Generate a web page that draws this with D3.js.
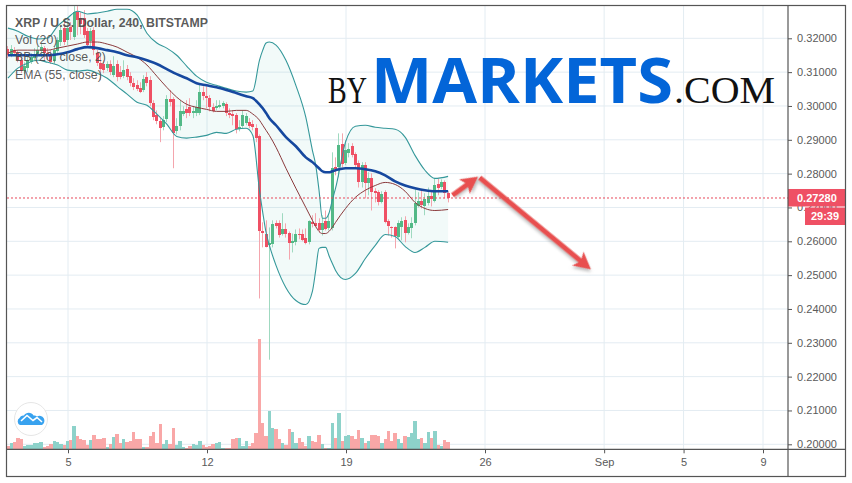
<!DOCTYPE html>
<html><head><meta charset="utf-8">
<script src="https://cdnjs.cloudflare.com/ajax/libs/d3/7.8.5/d3.min.js"></script>
<style>html,body{margin:0;padding:0;background:#fff}svg{display:block}text{font-family:"Liberation Sans",Arial,sans-serif}</style>
</head><body><svg id="c" width="852" height="483"></svg>
<script>
// One entry per 4-hour candle, first candle 2 Aug 2019 00:00 UTC
const opens=[.3168,.3153,.3165,.3156,.3135,.3103,.3112,.3129,.3141,.3150,
.3162,.3171,.3156,.3147,.3132,.3162,.3189,.3230,.3195,.3233,
.3203,.3277,.3260,.3260,.3221,.3192,.3224,.3156,.3127,.3124,
.3112,.3124,.3091,.3124,.3100,.3088,.3109,.3088,.3067,.3061,
.3052,.3047,.3085,.3076,.3008,.2973,.2955,.2937,.2961,.3020,
.3020,.2925,.2940,.2976,.2990,.2996,.2979,.2979,.2979,.3041,
.3029,.3023,.2996,.2993,.2996,.2999,.3005,.2979,.2976,.2973,
.2931,.2940,.2949,.2952,.2946,.2934,.2910,.2629,.2623,.2588,
.2591,.2653,.2653,.2620,.2635,.2626,.2594,.2600,.2623,.2623,
.2611,.2597,.2656,.2653,.2653,.2632,.2659,.2638,.2638,.2819,
.2819,.2887,.2831,.2860,.2881,.2857,.2831,.2774,.2825,.2771,
.2786,.2748,.2745,.2715,.2745,.2659,.2641,.2641,.2611,.2641,
.2662,.2623,.2638,.2653,.2703,.2718,.2703,.2712,.2733,.2718,
.2768,.2759,.2774,.2742];
const highs=[.3177,.3180,.3174,.3165,.3147,.3129,.3147,.3156,.3171,.3177,
.3183,.3177,.3171,.3165,.3177,.3203,.3236,.3248,.3254,.3248,
.3295,.3295,.3277,.3283,.3230,.3230,.3233,.3165,.3147,.3135,
.3132,.3135,.3147,.3135,.3118,.3135,.3121,.3100,.3082,.3076,
.3070,.3091,.3100,.3088,.3017,.2987,.2964,.2970,.3032,.3047,
.3026,.2964,.3017,.2999,.3017,.3023,.2999,.3017,.3067,.3058,
.3058,.3032,.3008,.3017,.3017,.3014,.3011,.2993,.2987,.2979,
.2958,.2987,.2979,.2964,.2958,.2946,.2916,.2656,.2662,.2641,
.2662,.2662,.2662,.2683,.2653,.2629,.2623,.2635,.2638,.2635,
.2638,.2662,.2677,.2683,.2668,.2677,.2691,.2677,.2863,.2848,
.2919,.2919,.2899,.2890,.2890,.2863,.2839,.2834,.2834,.2804,
.2801,.2757,.2751,.2748,.2751,.2665,.2644,.2644,.2662,.2671,
.2674,.2653,.2671,.2754,.2745,.2751,.2742,.2759,.2751,.2786,
.2786,.2783,.2780,.2748];
const lows=[.3141,.3144,.3150,.3129,.3097,.3094,.3100,.3124,.3135,.3141,
.3144,.3135,.3135,.3124,.3124,.3153,.3177,.3180,.3180,.3195,
.3195,.3209,.3212,.3201,.3171,.3177,.3150,.3118,.3076,.3097,
.3103,.3091,.3085,.3073,.3079,.3082,.3076,.3058,.3047,.3044,
.3038,.3041,.3058,.2999,.2958,.2946,.2893,.2928,.2952,.2999,
.2816,.2916,.2928,.2970,.2964,.2970,.2964,.2970,.2973,.3017,
.2993,.2984,.2981,.2987,.2993,.2993,.2970,.2964,.2943,.2919,
.2925,.2934,.2943,.2934,.2928,.2893,.2431,.2582,.2582,.2250,
.2582,.2638,.2611,.2617,.2611,.2546,.2567,.2588,.2606,.2600,
.2591,.2591,.2641,.2641,.2626,.2617,.2632,.2632,.2632,.2795,
.2789,.2819,.2825,.2848,.2848,.2819,.2759,.2759,.2727,.2736,
.2691,.2715,.2706,.2712,.2653,.2617,.2611,.2579,.2609,.2603,
.2597,.2620,.2609,.2647,.2700,.2697,.2677,.2706,.2703,.2715,
.2736,.2754,.2727,.2715];
const closes=[.3150,.3168,.3156,.3135,.3103,.3118,.3135,.3144,.3153,.3165,
.3174,.3156,.3147,.3129,.3165,.3195,.3224,.3189,.3230,.3218,
.3277,.3254,.3242,.3209,.3180,.3221,.3165,.3127,.3109,.3106,
.3124,.3100,.3118,.3085,.3085,.3106,.3085,.3067,.3055,.3050,
.3041,.3079,.3067,.3008,.2967,.2955,.2934,.2958,.3020,.3011,
.2919,.2940,.2984,.2984,.2979,.2979,.2984,.2996,.3041,.3029,
.3023,.2996,.2984,.2999,.3002,.3008,.2979,.2973,.2970,.2931,
.2937,.2973,.2970,.2940,.2937,.2905,.2629,.2623,.2585,.2594,
.2650,.2644,.2617,.2635,.2620,.2597,.2600,.2623,.2620,.2606,
.2597,.2659,.2650,.2644,.2632,.2653,.2635,.2659,.2816,.2813,
.2884,.2828,.2869,.2872,.2854,.2825,.2774,.2825,.2771,.2786,
.2745,.2742,.2715,.2739,.2656,.2644,.2638,.2614,.2653,.2659,
.2623,.2641,.2653,.2712,.2718,.2706,.2724,.2733,.2724,.2765,
.2757,.2774,.2742,.2728];
const volumes=[3,6,7,11,10,3,4,4,6,6,7,2.5,3,5,8,7,5,4,8,9,
23,13,10,9,4,9,14,10,10,11,2,5,12,15,6,10,7,8,17,10,
10,2,2,13,17,6,25,5,9,5,21,4,8,2,1,3,5,4,8,4,
2,3,5,6,7,1,1,1,10,11,11,3,8,3,6,16,110,26,13,38,
21,20,10,6,4,20,17,6,11,7,3,13,8,7,14,5,1,1,26,11,
36,8,13,14,13,10,19,11,6,8,14,14,13,6,10,18,8,16,10,6,
13,12,16,28,10,11,6,17,11,18,4,3,9,7];
// Indicator readings, sampled at these candle numbers
const sampleAt=[0,3,6,9,12,15,18,21,24,27,30,33,36,39,42,45,48,51,54,57,60,63,66,69,72,74,76,77,78,79,81,84,87,90,92,93,94,95,96,97,98,99,102,105,108,111,114,117,120,123,126,129,133];
const bbUpper=[.3230,.3221,.3206,.3198,.3201,.3236,.3260,.3280,.3272,.3275,.3280,.3286,.3286,.3269,.3215,.3186,.3171,.3150,.3118,.3088,.3070,.3061,.3052,.3044,.3041,.3044,.3135,.3165,.3186,.3189,.3180,.3135,.3061,.2967,.2869,.2825,.2751,.2668,.2668,.2683,.2721,.2757,.2893,.2940,.2943,.2937,.2934,.2931,.2908,.2854,.2810,.2786,.2792];
const bbLower=[.3082,.3112,.3127,.3135,.3129,.3121,.3106,.3103,.3106,.3097,.3082,.3058,.3035,.3011,.3002,.2976,.2946,.2910,.2905,.2908,.2913,.2922,.2919,.2931,.2934,.2913,.2751,.2685,.2626,.2588,.2529,.2463,.2425,.2413,.2452,.2514,.2579,.2582,.2582,.2558,.2535,.2514,.2487,.2505,.2549,.2588,.2620,.2614,.2585,.2567,.2582,.2600,.2597];
const bbBasis=[.3156,.3165,.3165,.3165,.3165,.3171,.3177,.3183,.3189,.3189,.3183,.3174,.3159,.3144,.3121,.3088,.3055,.3026,.3005,.2996,.2990,.2984,.2984,.2987,.2987,.2976,.2958,.2943,.2928,.2913,.2878,.2816,.2757,.2700,.2662,.2644,.2629,.2623,.2623,.2629,.2641,.2656,.2697,.2730,.2751,.2765,.2774,.2768,.2748,.2715,.2697,.2691,.2694];
const ema=[.3150,.3150,.3150,.3150,.3150,.3153,.3159,.3168,.3174,.3171,.3165,.3159,.3150,.3144,.3135,.3124,.3109,.3094,.3082,.3067,.3061,.3055,.3047,.3038,.3029,.3023,.3005,.2993,.2979,.2964,.2943,.2908,.2881,.2848,.2834,.2825,.2816,.2807,.2804,.2804,.2807,.2810,.2816,.2816,.2813,.2807,.2795,.2777,.2765,.2757,.2751,.2748,.2748];
const priceTicks=[.20,.21,.22,.23,.24,.25,.26,.27,.28,.29,.30,.31,.32];
const dateTicks=["2019-08-05","2019-08-12","2019-08-19","2019-08-26","2019-09-01","2019-09-05","2019-09-09"];
const dateLabels=["5","12","19","26","Sep","5","9"];
const legendLines=["XRP / U.S. Dollar, 240, BITSTAMP","Vol (20)","BB (20, close, 2)","EMA (55, close)"];
const lastPrice=.2728, lastLabel="0.27280", countdown="29:39";
// Forecast arrows: [candle number, price]
const arrowUp=[[134.2,.2736],[141.9,.2791]];
const arrowDown=[[142.4,.2788],[176,.2517]];

const H=4*3600e3, t0=Date.UTC(2019,7,2);
const tOf=i=>new Date(t0+i*H);
const L=7,R=788,T=6,B=449.3,FR=845,FB=476;
const x=d3.scaleUtc().domain([new Date("2019-08-05T00:00Z"),new Date("2019-09-09T00:00Z")]).range([68,763]);
const y=d3.scaleLinear().domain([.20,.32]).range([444.3,38.3]);
const v=d3.scaleLinear().domain([0,110]).range([B,B-110]);
const X=i=>x(tOf(i))-.5, cw=x(tOf(1))-x(tOf(0));
const RED="#ef5064",GRN="#53b987",WR="#f4a5ad",WG="#9fd9c0";
const svg=d3.select("#c");
const defs=svg.append("defs");
defs.append("clipPath").attr("id","pane").append("rect").attr("x",L).attr("y",T).attr("width",R-L).attr("height",B-T);
const f=defs.append("filter").attr("id","sh").attr("x","-20%").attr("y","-20%").attr("width","150%").attr("height","150%");
f.append("feDropShadow").attr("dx",1.5).attr("dy",2).attr("stdDeviation",1.5).attr("flood-color","#888").attr("flood-opacity",.55);

svg.append("rect").attr("width",852).attr("height",483).attr("fill","#fff");
// grid
const grid=svg.append("g").attr("stroke","#e3ecf2").attr("stroke-width",1);
priceTicks.forEach(p=>grid.append("line").attr("x1",L).attr("x2",R).attr("y1",y(p)).attr("y2",y(p)));
dateTicks.forEach(d=>{const px=x(new Date(d+"T00:00Z"));grid.append("line").attr("x1",px).attr("x2",px).attr("y1",T).attr("y2",B)});
// watermark
const wm=svg.append("g");
wm.append("text").text("BY").attr("x",328).attr("y",103).attr("textLength",39).attr("lengthAdjust","spacingAndGlyphs").style("font-family","'Liberation Serif',serif").attr("font-size",38).attr("fill","#111");
wm.append("text").text("MARKETS").attr("x",371).attr("y",103).attr("textLength",302).attr("lengthAdjust","spacingAndGlyphs").style("font-family","'Open Sans',sans-serif").attr("font-weight",700).attr("font-size",62).attr("fill","#0365d8");
wm.append("text").text(".COM").attr("x",674).attr("y",103).attr("textLength",101).attr("lengthAdjust","spacingAndGlyphs").style("font-family","'Liberation Serif',serif").attr("font-size",38).attr("fill","#111");

const pane=svg.append("g").attr("clip-path","url(#pane)");
// band
const area=d3.area().x(d=>X(d.i)).y0(d=>y(d.lo)).y1(d=>y(d.up)).curve(d3.curveMonotoneX);
const band=sampleAt.map((i,n)=>({i,up:bbUpper[n],lo:bbLower[n]}));
pane.append("path").attr("d",area(band)).attr("fill","#26a69a").attr("fill-opacity",.06);
// volume
const rows=opens.map((o,i)=>({i,o,h:highs[i],l:lows[i],c:closes[i],vol:volumes[i]}));
const barL=d=>Math.round(X(d.i)-cw/2), barR=d=>Math.round(X(d.i)+cw/2);
pane.append("g").selectAll("rect").data(rows).join("rect")
 .attr("x",barL).attr("width",d=>barR(d)-barL(d)).attr("y",d=>v(d.vol)).attr("height",d=>B-v(d.vol))
 .attr("fill",d=>d.c>=d.o?"#8dd2ca":"#f9a7a7").attr("shape-rendering","crispEdges");
// wicks
const bodyL=d=>Math.round(X(d.i)-1.5);
pane.append("g").selectAll("line").data(rows).join("line")
 .attr("x1",d=>bodyL(d)+1.5).attr("x2",d=>bodyL(d)+1.5).attr("y1",d=>y(d.h)).attr("y2",d=>y(d.l))
 .attr("stroke",d=>d.c>=d.o?WG:WR).attr("stroke-width",1);
// bodies
pane.append("g").selectAll("rect").data(rows).join("rect")
 .attr("x",bodyL).attr("width",3)
 .attr("y",d=>Math.round(y(Math.max(d.o,d.c)))).attr("height",d=>Math.max(1,Math.round(Math.abs(y(d.o)-y(d.c)))))
 .attr("fill",d=>d.c>=d.o?GRN:RED);
// indicator lines
const lineOf=(arr,col,w)=>pane.append("path").attr("fill","none").attr("stroke",col).attr("stroke-width",w)
 .attr("d",d3.line().x((d,n)=>X(sampleAt[n])).y(d=>y(d)).curve(d3.curveMonotoneX)(arr));
lineOf(bbUpper,"#35989a",1.1);
lineOf(bbLower,"#35989a",1.1);
lineOf(bbBasis,"#8a3a3c",1);
lineOf(ema,"#16489f",2.6);
// legend
const leg=svg.append("g").attr("fill","#4b4b4b");
legendLines.forEach((t,n)=>leg.append("text").text(t).attr("x",15).attr("y",26.5+n*17.4).attr("font-size",12.3).attr("font-weight",n?400:700).attr("fill-opacity",.92));
// last price line
svg.append("line").attr("x1",L).attr("x2",R).attr("y1",y(lastPrice)).attr("y2",y(lastPrice)).attr("stroke","#e8475a").attr("stroke-dasharray","2,2");
// arrows
function arrow(p){const a=[x(tOf(p[0][0])),y(p[0][1])],b=[x(tOf(p[1][0])),y(p[1][1])];
 const ang=Math.atan2(b[1]-a[1],b[0]-a[0]),len=Math.hypot(b[0]-a[0],b[1]-a[1]);
 const hl=17,hw=9,sw=2.6;
 const pts=[[0,-sw],[len-hl+3,-sw],[len-hl,-hw],[len,0],[len-hl,hw],[len-hl+3,sw],[0,sw]];
 svg.append("path").attr("transform",`translate(${a[0]},${a[1]}) rotate(${ang*180/Math.PI})`)
  .attr("d","M"+pts.join("L")+"Z").attr("fill","#e8504f").attr("filter","url(#sh)");}
arrow(arrowUp);arrow(arrowDown);
// tv logo
const lg=svg.append("g").attr("transform","translate(31,419)");
lg.append("circle").attr("r",16.5).attr("fill","#fff").attr("stroke","#e6e6e6").attr("stroke-width",1);
lg.append("path").attr("d","M-11,6 a4,4 0 0 1 -0.5,-7 a4,4 0 0 1 4.5,-2.5 a5.5,5.5 0 0 1 9.5,0 a4,4 0 0 1 3.5,1 a4.2,4.2 0 0 1 5,8.5 Z").attr("fill","#38a2ef");
lg.append("path").attr("d","M-10,2 L-4,-3.5 L2,1.5 L6,-1.5 L11,3").attr("fill","none").attr("stroke","#fff").attr("stroke-width",1.6);
// axes
const ya=svg.append("g").attr("transform",`translate(${R},0)`).call(d3.axisRight(y).tickValues(priceTicks).tickFormat(d3.format(".5f")).tickSize(4).tickPadding(5));
ya.select(".domain").remove();
ya.selectAll("line").attr("stroke","#555");
ya.selectAll("text").attr("font-size",11).attr("fill","#5a5a5a").style("letter-spacing","0.03px");
const xa=svg.append("g").attr("transform",`translate(0,${B})`).call(d3.axisBottom(x).tickValues(dateTicks.map(d=>new Date(d+"T00:00Z"))).tickFormat((d,i)=>dateLabels[i]).tickSize(4).tickPadding(5));
xa.select(".domain").remove();
xa.selectAll("line").attr("stroke","#555");
xa.selectAll("text").attr("font-size",11).attr("fill","#5a5a5a");
// price tags
const py=y(lastPrice);
svg.append("rect").attr("x",R).attr("y",py-9).attr("width",FR-R).attr("height",17.5).attr("fill",RED);
svg.append("text").text(lastLabel).attr("x",797).attr("y",py+4).attr("font-size",11).attr("font-weight",700).attr("fill","#fff");
svg.append("rect").attr("x",805).attr("y",py+9.5).attr("width",FR-805).attr("height",17.5).attr("fill",RED);
svg.append("text").text(countdown).attr("x",825).attr("y",py+22.5).attr("text-anchor","middle").attr("font-size",11).attr("font-weight",700).attr("fill","#fff");
// frame
const fr=svg.append("g").attr("stroke","#555").attr("stroke-width",1.2).attr("fill","none");
fr.append("rect").attr("x",L-.5).attr("y",T-.5).attr("width",FR-L+1).attr("height",FB-T+1);
fr.append("line").attr("x1",R).attr("x2",R).attr("y1",T).attr("y2",FB);
fr.append("line").attr("x1",L).attr("x2",FR).attr("y1",B).attr("y2",B);
</script></body></html>
